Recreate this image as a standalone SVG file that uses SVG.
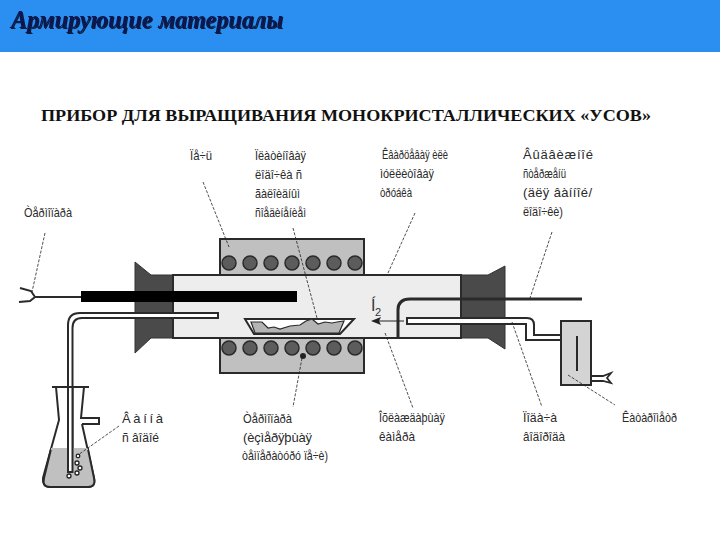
<svg xmlns="http://www.w3.org/2000/svg" width="720" height="540" viewBox="0 0 720 540">
<style>
.lbl{font-family:"Liberation Sans",Arial,sans-serif;font-size:13px;fill:#2a2a2a}
.ld{fill:none;stroke:#222;stroke-width:.8;stroke-dasharray:3 1.5}
.s{stroke:#2a2a2a;stroke-width:2;fill:none}
.coil{fill:#5c5c5c;stroke:#2a2a2a;stroke-width:1.5}
.fl{fill:#4a4a4a;stroke:#333;stroke-width:1}
.fur{fill:#c0c0c0;stroke:#2a2a2a;stroke-width:2}
.bub{fill:#fff;stroke:#222;stroke-width:1.3}
</style>
<defs>
<filter id="sh" x="-5%" y="-20%" width="110%" height="140%"><feDropShadow dx="1" dy="1" stdDeviation=".6" flood-color="#000" flood-opacity=".8"/></filter>
<circle id="c" r="7" class="coil"/>
</defs>
<rect width="720" height="540" fill="#fff"/>
<g id="header">
<rect width="720" height="52" fill="#2a8ff0"/>
<text x="11" y="28" font-family="'Liberation Serif',serif" font-size="26" font-weight="700" font-style="italic" fill="#0a1850" filter="url(#sh)" textLength="272" lengthAdjust="spacingAndGlyphs">Армирующие материалы</text>
<text x="41" y="121" font-family="'Liberation Serif',serif" font-size="17" font-weight="700" fill="#111" textLength="610" lengthAdjust="spacingAndGlyphs">ПРИБОР ДЛЯ ВЫРАЩИВАНИЯ МОНОКРИСТАЛЛИЧЕСКИХ «УСОВ»</text>
</g>
<g id="furnace-top"><rect class="fur" x="220" y="239" width="144" height="36"/>
<use href="#c" x="229" y="263"/><use href="#c" x="250" y="263"/><use href="#c" x="271" y="263"/><use href="#c" x="292" y="263"/><use href="#c" x="313" y="263"/><use href="#c" x="334" y="263"/><use href="#c" x="355" y="263"/></g>
<g id="furnace-bottom"><rect class="fur" x="220" y="338" width="144" height="35"/>
<use href="#c" x="229" y="348"/><use href="#c" x="250" y="348"/><use href="#c" x="271" y="348"/><use href="#c" x="292" y="348"/><use href="#c" x="313" y="348"/><use href="#c" x="334" y="348"/><use href="#c" x="355" y="348"/>
<circle cx="303" cy="356" r="3" fill="#222"/></g>
<g id="chamber">
<rect x="173" y="275" width="288" height="63" fill="#ededed" stroke="#2a2a2a" stroke-width="2"/>
<path class="fl" d="M135 262L151 275H173V338H151L135 353Z"/>
<path class="fl" d="M505 266L488 275H461V338H488L505 349Z"/>
<path d="M173 275V338M461 275V338" class="s"/>
</g>
<g id="rod"><rect x="81" y="291" width="216" height="11" fill="#000"/>
<path class="s" d="M35 297H81"/>
<path class="s" d="M35 297L31 291L20 288M35 297L30 301L19 302"/></g>
<g id="gas-tube-left"><path d="M218 313H80Q68 313 68 325V472H72.5V328Q72.5 318 82 318H218Z" fill="#fff" stroke="#2a2a2a" stroke-width="2"/></g>
<g id="boat">
<path d="M245 319H354L340 334H254Z" fill="#fff" stroke="#2a2a2a" stroke-width="2"/>
<path d="M251 322L262 322L268 328L274 327L280 329L290 326L300 325L306 321L312 319L318 324L325 322L332 323L337 322L344 321L339 333H255Z" fill="#b4b4b4" stroke="#2a2a2a" stroke-width="1.2"/>
</g>
<g id="gas-tube-right">
<path d="M398 338V310Q398 299 410 299H582" fill="none" stroke="#2a2a2a" stroke-width="3"/>
<path d="M407 318H527Q534 318 534 325V335H561V340H526V324H407Z" fill="#fff" stroke="#2a2a2a" stroke-width="2"/>
</g>
<g id="flowmeter">
<rect x="561" y="321" width="30" height="64" fill="#d4d4d4" stroke="#2a2a2a" stroke-width="2"/>
<path class="s" d="M577 336V371"/>
<path d="M591 376H603L611 373L607 378L611 383L603 381H591" fill="none" stroke="#2a2a2a" stroke-width="1.8"/>
</g>
<g id="flask">
<path d="M52 387H89M56 387L59 420L43 478Q42 487 50 487H88Q96 487 94 478L82 424M84 387L81 418H99V424H82" fill="none" stroke="#2a2a2a" stroke-width="2"/>
<path d="M51 449H88L94 478Q96 487 88 487H50Q42 487 44 478Z" fill="#c0c0c0" stroke="#2a2a2a" stroke-width="2"/>
<path d="M51 449H88" stroke="#c0c0c0" stroke-width="2.2"/>
<rect x="68" y="387" width="4.5" height="85" fill="#fff" stroke="#2a2a2a" stroke-width="2"/>
<circle class="bub" cx="78" cy="456" r="1.8"/><circle class="bub" cx="77" cy="463" r="2"/><circle class="bub" cx="80" cy="468" r="2"/><circle class="bub" cx="77" cy="473" r="2"/><circle class="bub" cx="69" cy="476" r="2"/>
</g>
<g id="connectors">
<path class="ld" d="M203 182L229 247"/>
<path class="ld" d="M293 228L317 318"/>
<path class="ld" d="M415 213L388 273"/>
<path class="ld" d="M552 232L530 298"/>
<path class="ld" d="M45 233L32 292"/>
<path class="ld" d="M119 426L78 455"/>
<path class="ld" d="M302 358L293 407"/>
<path class="ld" d="M385 333L413 408"/>
<path class="ld" d="M512 322L542 407"/>
<path class="ld" d="M568 375L615 405"/>
<path d="M404 321H377" stroke="#222" stroke-width="1" fill="none"/>
<path d="M371 321L381 317L379 321L381 325Z" fill="#222"/>
</g>
<g id="n-h2"><text x="371" y="311" font-family="'Liberation Sans',sans-serif" font-size="16" fill="#333">Í</text><text x="375" y="316" font-family="'Liberation Sans',sans-serif" font-size="11" fill="#333">2</text></g>
<g id="l-pech"><text class="lbl" x="190" y="160" textLength="22" lengthAdjust="spacingAndGlyphs">Ïå÷ü</text></g>
<g id="l-boat"><text class="lbl" x="255" y="160" textLength="51" lengthAdjust="spacingAndGlyphs">Ïëàòèíîâàÿ</text><text class="lbl" x="255" y="179" textLength="47" lengthAdjust="spacingAndGlyphs">ëîäî÷êà ñ</text><text class="lbl" x="255" y="198" textLength="45" lengthAdjust="spacingAndGlyphs">ãàëîèäíûì</text><text class="lbl" x="255" y="217" textLength="51" lengthAdjust="spacingAndGlyphs">ñîåäèíåíèåì</text></g>
<g id="l-tc1"><text class="lbl" x="24" y="217" textLength="48" lengthAdjust="spacingAndGlyphs">Òåðìîïàðà</text></g>
<g id="l-quartz"><text class="lbl" x="382" y="159" textLength="66" lengthAdjust="spacingAndGlyphs">Êâàðöåâàÿ èëè</text><text class="lbl" x="380" y="178" textLength="54" lengthAdjust="spacingAndGlyphs">ìóëëèòîâàÿ</text><text class="lbl" x="380" y="197" textLength="32" lengthAdjust="spacingAndGlyphs">òðóáêà</text></g>
<g id="l-rod"><text class="lbl" x="523" y="159" textLength="70" lengthAdjust="spacing">Âûäâèæíîé</text><text class="lbl" x="523" y="178" textLength="43" lengthAdjust="spacingAndGlyphs">ñòåðæåíü</text><text class="lbl" x="523" y="197" textLength="69" lengthAdjust="spacing">(äëÿ âàííîé/</text><text class="lbl" x="523" y="216" textLength="40" lengthAdjust="spacingAndGlyphs">ëîäî÷êè)</text></g>
<g id="l-bath"><text class="lbl" x="122" y="423" textLength="41" lengthAdjust="spacing">Âàííà</text><text class="lbl" x="122" y="442" textLength="37" lengthAdjust="spacingAndGlyphs">ñ âîäîé</text></g>
<g id="l-tc2"><text class="lbl" x="243" y="423" textLength="49" lengthAdjust="spacingAndGlyphs">Òåðìîïàðà</text><text class="lbl" x="243" y="442" textLength="69" lengthAdjust="spacing">(èçìåðÿþùàÿ</text><text class="lbl" x="242" y="460" textLength="86" lengthAdjust="spacingAndGlyphs">òåìïåðàòóðó ïå÷è)</text></g>
<g id="l-cool"><text class="lbl" x="379" y="422" textLength="66" lengthAdjust="spacingAndGlyphs">Îõëàæäàþùàÿ</text><text class="lbl" x="379" y="441" textLength="36" lengthAdjust="spacingAndGlyphs">êàìåðà</text></g>
<g id="l-feed"><text class="lbl" x="523" y="422" textLength="34" lengthAdjust="spacingAndGlyphs">Ïîäà÷à</text><text class="lbl" x="523" y="441" textLength="42" lengthAdjust="spacingAndGlyphs">âîäîðîäà</text></g>
<g id="l-kat"><text class="lbl" x="622" y="422" textLength="55" lengthAdjust="spacingAndGlyphs">Êàòàðîìåòð</text></g>
</svg>
